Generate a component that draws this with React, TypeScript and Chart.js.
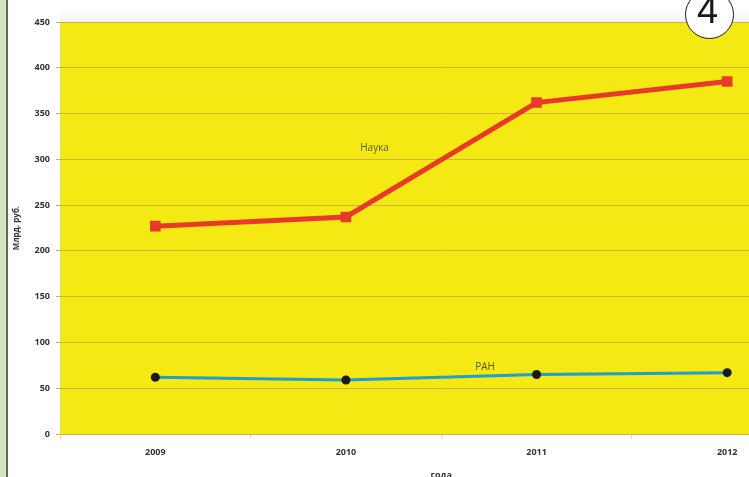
import React, { useEffect, useRef } from "react";
import { Chart, registerables } from "chart.js";

Chart.register(...registerables);

const years = ["2009", "2010", "2011", "2012"];
const naukaValues = [227, 237, 362, 385];
const ranValues = [62, 59, 65, 67];
const yTicks = [0, 50, 100, 150, 200, 250, 300, 350, 400, 450];
const naukaLabel = "Наука";
const ranLabel = "РАН";
const yTitle = "Млрд. руб.";
const xTitle = "года";

const FONT = "'Open Sans', 'DejaVu Sans', sans-serif";

const plotBg = {
  id: "plotBg",
  beforeDraw(chart: any) {
    const { ctx, chartArea } = chart;
    if (!chartArea) return;
    ctx.save();
    const g = ctx.createLinearGradient(0, 8, 0, chartArea.top);
    g.addColorStop(0, "#ffffff");
    g.addColorStop(1, "#f3f3f1");
    ctx.fillStyle = g;
    ctx.fillRect(chartArea.left, 8, chartArea.right - chartArea.left, chartArea.top - 8);
    ctx.fillStyle = "#f4e912";
    ctx.fillRect(chartArea.left, chartArea.top, chartArea.right - chartArea.left, chartArea.bottom - chartArea.top);
    ctx.strokeStyle = "#e9dc6a";
    ctx.lineWidth = 1;
    ctx.beginPath();
    ctx.moveTo(chartArea.left + 0.5, chartArea.bottom);
    ctx.lineTo(chartArea.left + 0.5, chartArea.top);
    ctx.stroke();
    ctx.restore();
  },
};

const seriesLabels = {
  id: "seriesLabels",
  afterDatasetsDraw(chart: any) {
    const { ctx, scales } = chart;
    const xs = scales.x;
    const ys = scales.y;
    const place = (text: string, xi: number, yv: number) => {
      const x0 = xs.getPixelForValue(Math.floor(xi));
      const x1 = xs.getPixelForValue(Math.ceil(xi));
      const x = x0 + (x1 - x0) * (xi - Math.floor(xi));
      ctx.fillText(text, x, ys.getPixelForValue(yv));
    };
    ctx.save();
    ctx.fillStyle = "#5c5a1e";
    ctx.font = `10px ${FONT}`;
    ctx.textAlign = "center";
    ctx.textBaseline = "middle";
    place(naukaLabel, 1.15, 312);
    place(ranLabel, 1.73, 73);
    ctx.restore();
  },
};

export default function App() {
  const ref = useRef<HTMLCanvasElement | null>(null);

  useEffect(() => {
    if (!ref.current) return;
    const chart = new Chart(ref.current, {
      type: "line",
      data: {
        labels: years,
        datasets: [
          {
            label: naukaLabel,
            data: naukaValues,
            borderColor: "#e8392b",
            backgroundColor: "#e8392b",
            borderWidth: 5,
            pointStyle: "rect",
            pointRadius: 7.5,
            pointBorderWidth: 0,
            tension: 0,
          },
          {
            label: ranLabel,
            data: ranValues,
            borderColor: "#1e9fd0",
            backgroundColor: "#1a1a1a",
            borderWidth: 3,
            pointStyle: "circle",
            pointRadius: 4.5,
            pointBorderWidth: 0,
            tension: 0,
          },
        ],
      },
      options: {
        animation: false,
        responsive: false,
        devicePixelRatio: 1,
        layout: { padding: { left: 8, top: 22, right: 5, bottom: 0 } },
        plugins: { legend: { display: false }, tooltip: { enabled: false } },
        scales: {
          x: {
            offset: true,
            grid: {
              offset: true,
              drawOnChartArea: false,
              drawTicks: true,
              tickLength: 5,
              color: "#d9d9d9",
            },
            border: { display: false },
            ticks: {
              color: "#333333",
              font: { family: FONT, size: 9, weight: "bold" },
              padding: 8,
              maxRotation: 0,
            },
            title: {
              display: true,
              text: xTitle,
              color: "#333333",
              font: { family: FONT, size: 9, weight: "bold" },
              padding: { top: 9, bottom: -4 },
            },
            afterFit(scale: any) {
              scale.height = 43;
            },
          },
          y: {
            min: 0,
            max: 450,
            afterBuildTicks(scale: any) {
              scale.ticks = yTicks.map((v) => ({ value: v }));
            },
            grid: {
              color: "#c8b930",
              lineWidth: 1,
              drawTicks: true,
              tickLength: 4,
            },
            border: { display: false },
            ticks: {
              color: "#333333",
              font: { family: FONT, size: 9, weight: "bold" },
              padding: 6,
            },
            title: {
              display: true,
              text: yTitle,
              color: "#333333",
              font: { family: FONT, size: 8, weight: "bold" },
              padding: { top: 4, bottom: 4 },
            },
            afterFit(scale: any) {
              scale.width = 52;
            },
          },
        },
      },
      plugins: [plotBg, seriesLabels],
    });
    return () => chart.destroy();
  }, []);

  return (
    <div
      style={{
        position: "fixed",
        left: 0,
        top: 0,
        width: 749,
        height: 477,
        overflow: "hidden",
        background: "#ffffff",
      }}
    >
      <canvas ref={ref} width={830} height={477} style={{ position: "absolute", left: 0, top: 0 }} />
      <div
        style={{
          position: "absolute",
          left: 0,
          top: 0,
          width: 6,
          height: 477,
          background: "#d6e4c4",
          borderRight: "2px solid #5e6b52",
        }}
      />
      <div
        style={{
          position: "absolute",
          left: 685,
          top: -10,
          width: 49,
          height: 49,
          borderRadius: "50%",
          border: "1.5px solid #1a1a1a",
          background: "#ffffff",
          display: "flex",
          alignItems: "flex-end",
          justifyContent: "center",
          fontFamily: "'Liberation Sans', 'DejaVu Sans', sans-serif",
          fontSize: 38,
          lineHeight: "38px",
          color: "#1a1a1a",
          paddingBottom: 9,
          paddingRight: 4,
          boxSizing: "border-box",
        }}
      >
        4
      </div>
    </div>
  );
}
